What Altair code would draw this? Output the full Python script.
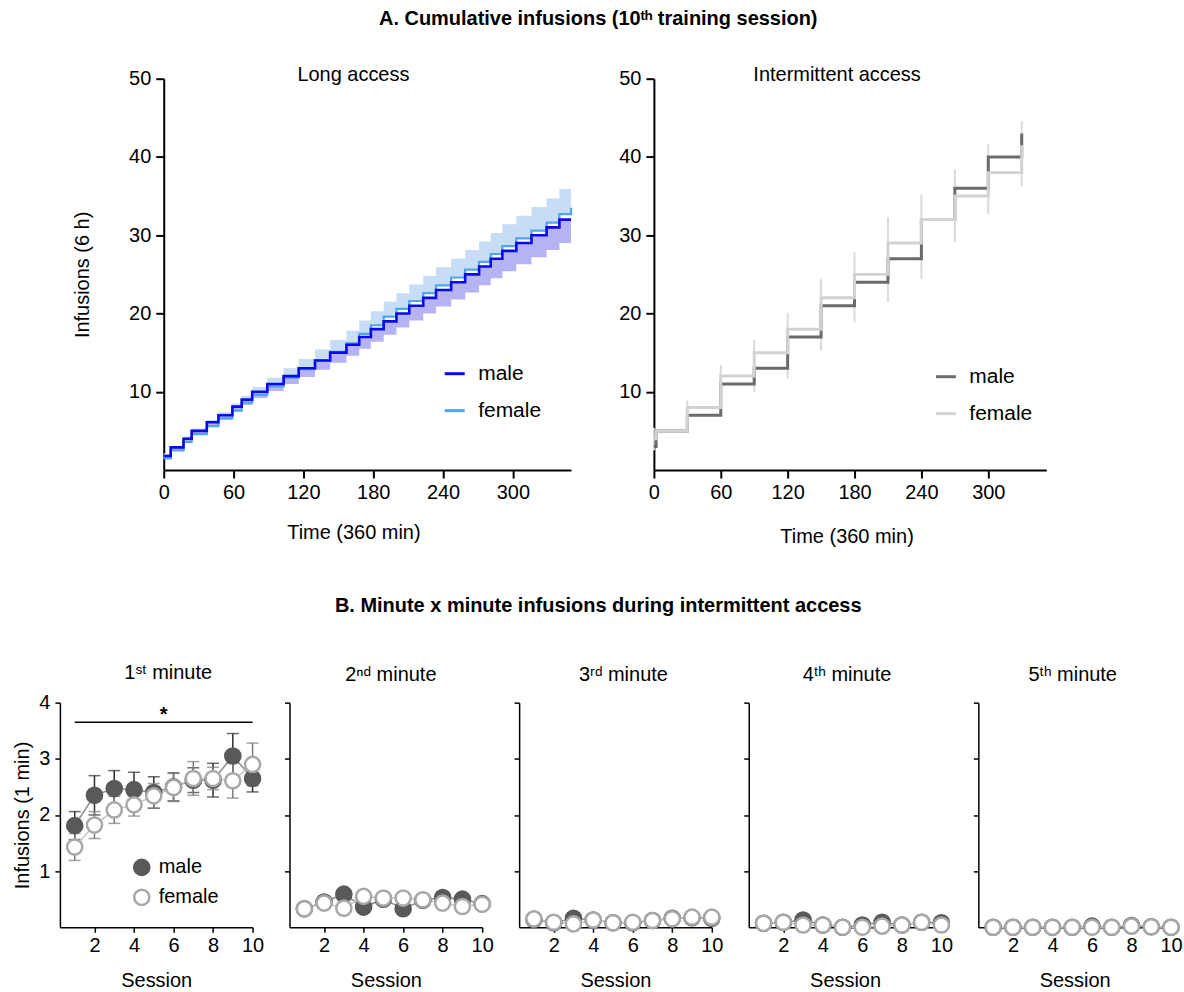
import altair as alt
import pandas as pd

FONT = "Liberation Sans"

# ---------------- A. Long access: cumulative infusions (step means + SEM) ----------------
la_time = [0, 6, 17, 24, 37, 47, 59, 67, 76, 89, 103, 116, 130, 143, 157, 168,
           178, 189, 200, 211, 223, 234, 247, 259, 271, 281, 291, 303, 316, 329, 340, 350]
la_male = [1.8, 2.9, 4.0, 5.0, 6.1, 7.0, 8.1, 9.0, 10.0, 11.0, 12.0, 13.0, 14.0, 15.0, 16.0, 17.0,
           18.0, 19.0, 20.0, 21.0, 22.0, 23.0, 24.0, 25.0, 26.0, 27.0, 28.0, 29.0, 30.0, 31.0, 32.0, 32.0]
la_male_sem = [0.3, 0.4, 0.4, 0.5, 0.5, 0.6, 0.6, 0.7, 0.8, 0.9, 1.0, 1.1, 1.2, 1.3, 1.4, 1.5,
               1.6, 1.7, 1.8, 1.9, 2.0, 2.1, 2.2, 2.3, 2.4, 2.5, 2.6, 2.7, 2.8, 2.9, 3.0, 3.0]
la_female = [1.5, 2.5, 3.6, 4.6, 5.6, 6.6, 7.6, 8.6, 9.6, 10.7, 11.8, 12.9, 14.0, 15.1, 16.2, 17.4,
             18.5, 19.6, 20.6, 21.6, 22.6, 23.6, 24.6, 25.6, 26.6, 27.6, 28.6, 29.6, 30.6, 31.6, 32.7, 33.5]
la_female_sem = [0.6, 0.6, 0.7, 0.7, 0.8, 0.8, 0.9, 0.9, 1.0, 1.1, 1.2, 1.3, 1.4, 1.5, 1.6, 1.7,
                 1.8, 1.9, 2.0, 2.1, 2.2, 2.3, 2.4, 2.5, 2.6, 2.7, 2.8, 2.9, 3.0, 3.1, 3.2, 3.4]

# ---------------- A. Intermittent access ----------------
ia_time = [0, 2, 30, 60, 90, 120, 150, 180, 210, 240, 270, 300, 330]
ia_male = [3.0, 5, 7, 11, 13, 17, 21, 24, 27, 32, 36, 40, 43]
ia_female = [4.0, 5, 8, 12, 15, 18, 22, 25, 29, 32, 35, 38, 41.5]
ia_err_time = [0, 30, 60, 90, 120, 150, 180, 210, 240, 270, 300, 330]
ia_err_lo = [2.5, 4.7, 8.7, 10.0, 11.7, 15.3, 18.9, 21.5, 24.4, 29.1, 32.7, 36.3]
ia_err_hi = [5.4, 8.9, 13.4, 16.6, 20.0, 24.4, 27.8, 32.3, 35.2, 38.4, 41.6, 44.6]

# ---------------- B. Minute x minute infusions ----------------
sessions = [1, 2, 3, 4, 5, 6, 7, 8, 9, 10]
m1_male = [1.81, 2.35, 2.47, 2.45, 2.40, 2.50, 2.62, 2.62, 3.05, 2.65]
m1_male_sem = [0.25, 0.35, 0.32, 0.31, 0.28, 0.25, 0.22, 0.30, 0.40, 0.24]
m1_female = [1.43, 1.82, 2.09, 2.18, 2.34, 2.49, 2.65, 2.65, 2.61, 2.90]
m1_female_sem = [0.24, 0.24, 0.24, 0.20, 0.22, 0.25, 0.30, 0.20, 0.31, 0.38]
m2_male = [0.33, 0.45, 0.59, 0.36, 0.50, 0.33, 0.48, 0.53, 0.50, 0.42]
m2_female = [0.33, 0.43, 0.34, 0.55, 0.52, 0.52, 0.49, 0.43, 0.37, 0.41]
m3_male = [0.14, 0.08, 0.16, 0.13, 0.08, 0.08, 0.12, 0.16, 0.17, 0.16]
m3_female = [0.15, 0.09, 0.06, 0.13, 0.08, 0.09, 0.12, 0.15, 0.18, 0.18]
m4_male = [0.07, 0.09, 0.13, 0.04, 0.0, 0.04, 0.09, 0.04, 0.09, 0.08]
m4_female = [0.07, 0.09, 0.04, 0.04, 0.0, 0.0, 0.02, 0.04, 0.09, 0.04]
m5_male = [0.0, 0.0, 0.0, 0.0, 0.0, 0.02, 0.0, 0.03, 0.01, 0.0]
m5_female = [0.0, 0.0, 0.0, 0.0, 0.0, 0.0, 0.0, 0.02, 0.01, 0.0]
sig_line = {"x1": [1], "x2": [10], "y": [3.65]}
sig_star = {"x": [5.5], "y": [3.78], "label": ["*"]}

# ================= top row =================
def top_x_axis(tx, ty):
    return alt.Axis(values=[0, 60, 120, 180, 240, 300], title="Time (360 min)",
                    titleX=tx, titleY=ty, labelFontSize=20, titleFontSize=20,
                    labelPadding=5, tickSize=8, tickWidth=2, domainWidth=2,
                    labelFlush=False, labelOverlap=False)


def top_y_axis(title):
    kw = dict(values=[10, 20, 30, 40, 50], labelFontSize=20, titleFontSize=20,
              labelPadding=5, tickSize=8, tickWidth=2, domainWidth=2, titlePadding=36,
              labelFlush=False, labelOverlap=False)
    return alt.Axis(title=title, **kw)


def top_legend(lx, ly):
    return alt.Legend(orient="none", legendX=lx, legendY=ly, title=None, symbolType="stroke",
                      symbolStrokeWidth=3, symbolSize=400, labelFontSize=21, labelOffset=12,
                      rowPadding=15, padding=0, labelColor="black")


la_m = pd.DataFrame({"t": la_time, "v": la_male, "sex": "male"})
la_m["lo"] = [v - s for v, s in zip(la_male, la_male_sem)]
la_m["hi"] = la_male
la_f = pd.DataFrame({"t": la_time, "v": la_female, "sex": "female"})
la_f["lo"] = la_female
la_f["hi"] = [v + s for v, s in zip(la_female, la_female_sem)]

xa_la = top_x_axis(190, 53)
ya_la = top_y_axis("Infusions (6 h)")
x_la = alt.X("t:Q", scale=alt.Scale(domain=[0, 350], nice=False, zero=False), axis=xa_la)
y_scale_top = alt.Scale(domain=[0, 50], nice=False)
la_color = alt.Color("sex:N", scale=alt.Scale(domain=["male", "female"], range=["#0a0ae6", "#52a3f0"]),
                     legend=top_legend(280, 284))

la_band_f = alt.Chart(la_f).mark_area(interpolate="step-after", color="#c7dcf5").encode(
    x=x_la, y=alt.Y("lo:Q", scale=y_scale_top, axis=ya_la), y2="hi:Q")
la_band_m = alt.Chart(la_m).mark_area(interpolate="step-after", color="#b6b3f3").encode(
    x=x_la, y=alt.Y("lo:Q", scale=y_scale_top, axis=ya_la), y2="hi:Q")
la_line_f = alt.Chart(la_f).mark_line(interpolate="step-after", strokeWidth=2.2).encode(
    x=x_la, y=alt.Y("v:Q", scale=y_scale_top, axis=ya_la), color=la_color)
la_line_m = alt.Chart(la_m).mark_line(interpolate="step-after", strokeWidth=2.6).encode(
    x=x_la, y=alt.Y("v:Q", scale=y_scale_top, axis=ya_la), color=la_color)

la_chart = alt.layer(la_band_f, la_band_m, la_line_f, la_line_m).properties(
    width=408, height=392,
    title=alt.TitleParams("Long access", font=FONT, fontSize=20, fontWeight="normal",
                          frame="group", anchor="middle", dx=-14, offset=-16))

ia_m = pd.DataFrame({"t": ia_time, "v": ia_male, "sex": "male"})
ia_f = pd.DataFrame({"t": ia_time, "v": ia_female, "sex": "female"})
ia_e = pd.DataFrame({"t": ia_err_time, "lo": ia_err_lo, "hi": ia_err_hi})

xa_ia = top_x_axis(193, 57)
ya_ia = top_y_axis(None)
x_ia = alt.X("t:Q", scale=alt.Scale(domain=[0, 352], nice=False, zero=False), axis=xa_ia)
ia_color = alt.Color("sex:N", scale=alt.Scale(domain=["male", "female"], range=["#6b6b6b", "#d2d2d2"]),
                     legend=top_legend(281, 287))

ia_err = alt.Chart(ia_e).mark_rule(color="#dadada", strokeWidth=2).encode(
    x=x_ia, y=alt.Y("lo:Q", scale=y_scale_top, axis=ya_ia), y2="hi:Q")
ia_line_m = alt.Chart(ia_m).mark_line(interpolate="step-after", strokeWidth=3).encode(
    x=x_ia, y=alt.Y("v:Q", scale=y_scale_top, axis=ya_ia), color=ia_color)
ia_line_f = alt.Chart(ia_f).mark_line(interpolate="step-after", strokeWidth=3).encode(
    x=x_ia, y=alt.Y("v:Q", scale=y_scale_top, axis=ya_ia), color=ia_color)

ia_chart = alt.layer(ia_err, ia_line_m, ia_line_f).properties(
    width=393, height=392,
    title=alt.TitleParams("Intermittent access", font=FONT, fontSize=20, fontWeight="normal",
                          frame="group", anchor="middle", dx=-13, offset=-16))

spacer = alt.Chart(pd.DataFrame({"a": [0]})).mark_point(opacity=0).encode(
    x=alt.value(0), y=alt.value(0)).properties(width=21, height=392)

top_row = alt.hconcat(spacer, la_chart, ia_chart, spacing=83, bounds="flush").resolve_scale(
    color="independent")

# ================= bottom row =================
def minute_panel(title, male, female, male_sem=None, female_sem=None, first=False,
                 title_dx=0, title_offset=17):
    dm = pd.DataFrame({"s": sessions, "v": male, "sex": "male"})
    dfm = pd.DataFrame({"s": sessions, "v": female, "sex": "female"})
    both = pd.concat([dm, dfm], ignore_index=True)

    xax = alt.Axis(values=[2, 4, 6, 8, 10], title="Session", labelFontSize=20, titleFontSize=20,
                   labelPadding=3, titlePadding=15, tickSize=5, tickWidth=1.5, domainWidth=1.5,
                   labelFlush=False, labelOverlap=False)
    if first:
        yax = alt.Axis(values=[1, 2, 3, 4], title="Infusions (1 min)", labelFontSize=20,
                       titleFontSize=20, labelPadding=5, titlePadding=6, tickSize=5,
                       tickWidth=1.5, domainWidth=1.5, labelFlush=False, labelOverlap=False)
    else:
        yax = alt.Axis(values=[1, 2, 3, 4], title=None, labels=False, tickSize=5,
                       tickWidth=1.5, domainWidth=1.5)
    xs = alt.Scale(domain=[0.25, 10], nice=False, zero=False)
    ys = alt.Scale(domain=[0, 4], nice=False)
    X = alt.X("s:Q", scale=xs, axis=xax)

    layers = []
    if male_sem is not None:
        em = dm.copy()
        em["lo"] = [v - s for v, s in zip(male, male_sem)]
        em["hi"] = [v + s for v, s in zip(male, male_sem)]
        ef = dfm.copy()
        ef["lo"] = [v - s for v, s in zip(female, female_sem)]
        ef["hi"] = [v + s for v, s in zip(female, female_sem)]
        layers.append(alt.Chart(em).mark_errorbar(ticks=True, size=12, thickness=1.5, color="#2e2e2e").encode(
            x=X, y=alt.Y("lo:Q", scale=ys, axis=yax), y2="hi:Q"))
        layers.append(alt.Chart(ef).mark_errorbar(ticks=True, size=12, thickness=1.5, color="#7a7a7a").encode(
            x=X, y=alt.Y("lo:Q", scale=ys, axis=yax), y2="hi:Q"))

    layers.append(alt.Chart(dm).mark_line(strokeWidth=1.5, color="#8c8c8c").encode(
        x=X, y=alt.Y("v:Q", scale=ys, axis=yax)))
    layers.append(alt.Chart(dfm).mark_line(strokeWidth=1.5, color="#c4c4c4").encode(
        x=X, y=alt.Y("v:Q", scale=ys, axis=yax)))

    if first:
        leg = alt.Legend(orient="none", legendX=72, legendY=155, title=None, labelFontSize=20,
                         symbolSize=230, symbolStrokeWidth=2.5, symbolType="circle",
                         labelOffset=7, rowPadding=4, padding=0, labelColor="black")
    else:
        leg = None
    fill = alt.Fill("sex:N", scale=alt.Scale(domain=["male", "female"], range=["#595959", "#ffffff"]),
                    legend=leg)
    stroke = alt.Stroke("sex:N", scale=alt.Scale(domain=["male", "female"], range=["#595959", "#a8a8a8"]),
                        legend=leg)
    layers.append(alt.Chart(both).mark_circle(size=230, opacity=1, strokeWidth=2.5).encode(
        x=X, y=alt.Y("v:Q", scale=ys, axis=yax), fill=fill, stroke=stroke))

    if first:
        layers.append(alt.Chart(pd.DataFrame(sig_line)).mark_rule(color="black", strokeWidth=1.5).encode(
            x=alt.X("x1:Q", scale=xs, axis=xax), x2="x2:Q", y=alt.Y("y:Q", scale=ys, axis=yax)))
        layers.append(alt.Chart(pd.DataFrame(sig_star)).mark_text(
            font=FONT, fontSize=20, fontWeight="bold", baseline="middle", color="black").encode(
            x=alt.X("x:Q", scale=xs, axis=xax), y=alt.Y("y:Q", scale=ys, axis=yax), text="label:N"))

    return alt.layer(*layers).properties(
        width=193, height=225,
        title=alt.TitleParams(title, font=FONT, fontSize=20, fontWeight="normal",
                              frame="group", anchor="middle", dx=title_dx, offset=title_offset))


p1 = minute_panel("1ˢᵗ minute", m1_male, m1_female, m1_male_sem, m1_female_sem, first=True,
                  title_dx=12, title_offset=10)
p2 = minute_panel("2ⁿᵈ minute", m2_male, m2_female, title_dx=5)
p3 = minute_panel("3ʳᵈ minute", m3_male, m3_female, title_dx=8)
p4 = minute_panel("4ᵗʰ minute", m4_male, m4_female, title_dx=2)
p5 = minute_panel("5ᵗʰ minute", m5_male, m5_female, title_dx=-2)

bottom_row = alt.hconcat(
    p1, p2, p3, p4, p5, spacing=37, bounds="flush",
    title=alt.TitleParams("B. Minute x minute infusions during intermittent access", font=FONT,
                          fontSize=20, fontWeight="bold", anchor="middle", offset=47),
).resolve_scale(fill="independent", stroke="independent")

chart = alt.vconcat(
    top_row, bottom_row, spacing=49,
    title=alt.TitleParams("A. Cumulative infusions (10ᵗʰ training session)", font=FONT,
                          fontSize=20, fontWeight="bold", anchor="middle", offset=36),
).resolve_scale(color="independent", fill="independent", stroke="independent").properties(
    padding={"left": 12, "top": 8, "right": 0, "bottom": 0}
).configure_view(stroke=None).configure_axis(
    grid=False, domainColor="black", tickColor="black", labelColor="black", titleColor="black",
    labelFont=FONT, titleFont=FONT, titleFontWeight="normal"
).configure_title(font=FONT, color="black").configure_legend(labelFont=FONT)

chart.save("out.html", embed_options={"renderer": "svg", "actions": False})
